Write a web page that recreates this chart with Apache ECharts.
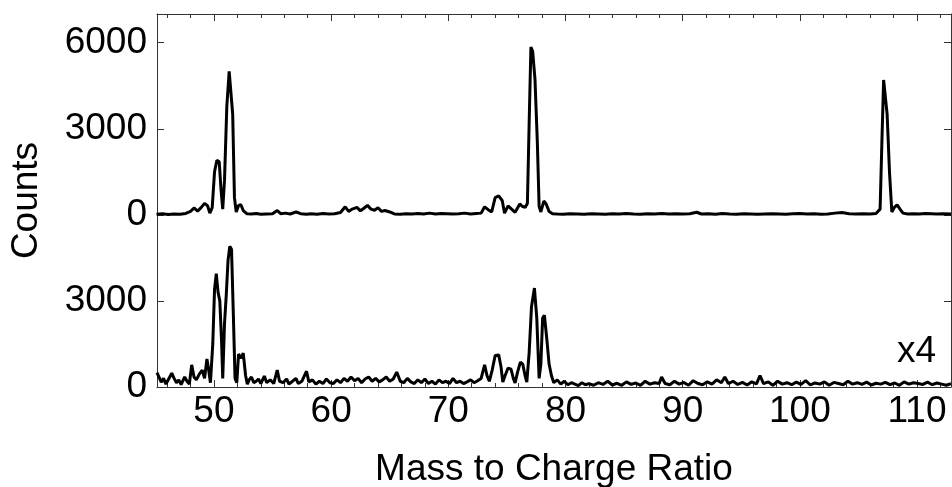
<!DOCTYPE html>
<html>
<head>
<meta charset="utf-8">
<script src="https://cdn.jsdelivr.net/npm/echarts@6/dist/echarts.min.js"></script>
<style>
html,body{margin:0;padding:0;background:#fff;}
#chart{width:952px;height:487px;}
</style>
</head>
<body>
<div id="chart"></div>
<script>
// ---- Data ----
// Upper trace: raw counts, drawn with a vertical offset of UPPER_OFFSET
const upperMass = [45.1,45.6,46.1,46.6,47.1,47.6,48.0,48.3,48.6,48.9,49.2,49.45,49.65,49.85,50.05,50.25,50.45,50.6,50.75,50.9,51.1,51.3,51.45,51.6,51.75,51.9,52.1,52.3,52.5,52.8,53.2,53.6,54.0,54.5,55.0,55.4,55.7,56.1,56.5,57.0,57.4,57.9,58.3,58.8,59.3,59.8,60.3,60.8,61.2,61.5,61.8,62.2,62.5,62.8,63.1,63.4,63.7,64.0,64.3,64.6,65.0,65.4,65.9,66.4,66.9,67.4,67.9,68.4,68.9,69.4,69.9,70.4,70.9,71.4,71.9,72.4,72.8,73.1,73.4,73.7,74.0,74.3,74.6,74.8,75.1,75.4,75.7,75.85,76.1,76.3,76.55,76.75,76.9,77.05,77.2,77.4,77.6,77.75,77.9,78.15,78.35,78.6,78.9,79.3,79.8,80.4,81.0,81.6,82.2,82.8,83.4,84.0,84.6,85.2,85.8,86.4,87.0,87.6,88.2,88.8,89.4,90.0,90.6,91.2,91.6,92.2,92.8,93.4,94.0,94.6,95.2,95.8,96.4,97.0,97.6,98.2,98.8,99.4,100.0,100.6,101.2,101.8,102.4,103.0,103.6,104.2,104.8,105.4,106.0,106.5,106.85,107.0,107.15,107.3,107.45,107.65,107.85,108.05,108.3,108.55,108.8,109.2,109.7,110.2,110.7,111.2,111.7,112.2,112.9];
const upperCounts = [20,40,10,30,20,50,120,240,130,250,400,320,60,250,1500,1900,1850,900,200,1200,3800,5000,5050,3500,600,100,330,350,150,40,30,50,20,30,40,150,40,60,30,100,40,20,40,20,50,30,40,80,280,120,200,260,140,230,330,200,160,250,120,150,100,30,20,40,30,50,30,60,30,50,40,30,40,60,30,50,60,280,180,100,600,660,500,60,310,200,90,50,380,300,260,400,3200,5850,5700,4700,2500,300,100,480,380,120,40,30,20,40,30,20,40,30,20,40,30,50,30,20,40,30,50,30,40,30,40,90,30,40,20,50,30,20,40,30,20,30,40,30,20,40,50,30,40,20,30,60,80,40,30,40,30,50,200,2500,4700,4650,3500,1500,100,250,350,200,60,30,40,30,50,40,30,40,30];

// Lower trace: counts already multiplied by 4 ("x4")
const lowerMass = [45.14,45.3,45.5,45.7,45.9,46.1,46.4,46.6,46.8,47.0,47.2,47.5,47.7,47.9,48.1,48.3,48.5,48.75,49.0,49.2,49.4,49.55,49.7,49.9,50.05,50.2,50.35,50.5,50.65,50.75,50.9,51.05,51.2,51.35,51.5,51.65,51.8,51.95,52.1,52.3,52.5,52.7,52.85,53.0,53.2,53.4,53.6,53.8,54.0,54.3,54.5,54.8,55.1,55.4,55.6,55.9,56.2,56.4,56.7,57.0,57.2,57.5,57.9,58.1,58.4,58.7,59.0,59.3,59.6,59.9,60.2,60.5,60.8,61.1,61.4,61.7,62.0,62.3,62.6,62.9,63.2,63.5,63.8,64.1,64.4,64.7,65.0,65.3,65.6,65.9,66.2,66.5,66.8,67.1,67.4,67.7,68.0,68.3,68.6,68.9,69.2,69.5,69.8,70.1,70.4,70.7,71.0,71.3,71.6,71.9,72.2,72.5,72.8,73.1,73.3,73.5,73.75,74.0,74.3,74.5,74.65,74.85,75.1,75.35,75.55,75.7,75.9,76.15,76.35,76.55,76.7,76.9,77.1,77.35,77.55,77.75,77.9,78.05,78.2,78.4,78.6,78.8,
  79.0,79.3,79.6,79.9,80.2,80.5,80.8,81.1,81.4,81.7,82.0,
  82.4,82.8,83.2,83.6,84.0,84.4,84.8,85.2,85.6,86.0,86.4,86.8,87.2,87.6,88.0,
  88.2,88.5,
  88.9,89.3,89.7,90.1,90.5,90.9,91.3,91.7,92.1,92.5,92.9,93.3,
  93.6,
  93.9,94.3,94.7,95.1,95.5,95.9,96.3,
  96.6,
  96.9,97.3,97.7,98.1,98.5,98.9,99.3,99.7,100.1,100.5,100.9,101.3,101.7,102.1,102.5,102.9,103.3,103.7,104.1,104.5,104.9,105.3,105.7,106.1,106.5,106.9,107.3,107.7,108.1,108.5,108.9,109.3,109.7,110.1,110.5,110.9,111.3,111.7,112.1,112.5,112.9];
const lowerCounts = [500,520,170,300,100,250,480,300,150,250,80,350,200,100,770,350,250,450,590,300,980,600,150,1500,3400,3950,3300,3000,1600,300,2200,3200,4400,4900,4800,2600,300,150,1150,1000,1180,400,100,250,350,150,200,280,120,380,150,250,120,590,200,150,280,100,200,300,120,200,550,180,250,100,200,120,280,150,120,250,150,300,200,350,220,300,150,280,350,200,300,180,250,350,200,280,520,200,150,300,180,120,250,150,280,120,200,100,250,150,200,120,300,150,200,120,180,250,150,220,300,770,400,200,600,1100,1120,700,170,400,660,620,300,140,500,870,800,400,170,1200,2800,3450,2400,300,800,2400,2500,1700,800,400,
  150,250,100,200,80,150,100,50,150,80,120,
  60,150,90,200,70,130,60,180,90,140,60,200,100,150,120,
  350,120,
  80,200,100,160,60,220,120,80,180,100,250,150,
  350,
  120,200,90,160,70,180,110,
  400,
  120,180,60,200,100,150,80,170,90,220,70,140,100,180,60,160,120,80,200,100,150,90,170,70,130,100,160,80,140,60,180,100,150,120,90,170,80,140,100,60,120];

const UPPER_OFFSET = 6000;
const xLabelValues = [50, 60, 70, 80, 90, 100, 110];
const xMinorTicks = [46,48,52,54,56,58,62,64,66,68,72,74,76,78,82,84,86,88,92,94,96,98,102,104,106,108,112];
const yTickValues = [0, 3000, 6000, 9000, 12000];
const yTickLabels = ['0', '3000', '0', '3000', '6000'];
const xMin = 45.14, xMax = 112.9, yMin = 0, yMax = 13000;

// ---- Build series data ----
const upperData = upperMass.map((m, i) => [m, upperCounts[i] + UPPER_OFFSET]);
const lowerData = lowerMass.map((m, i) => [m, lowerCounts[i]]);

const FONT = '"Liberation Sans", Arial, Helvetica, sans-serif';
const FS = 37;
const axisColor = '#333';

function xAx(pos, major, showLabel, showLine) {
  return {
    type: 'value', position: pos, min: xMin, max: xMax,
    axisLine: { show: showLine, onZero: false, lineStyle: { color: axisColor, width: 1 } },
    axisTick: { show: true, inside: true, length: major ? 7 : 4,
      customValues: major ? xLabelValues : xMinorTicks,
      lineStyle: { color: axisColor, width: 1 } },
    axisLabel: { show: showLabel, customValues: xLabelValues, margin: 6,
      color: '#000', fontSize: FS, fontFamily: FONT },
    splitLine: { show: false },
    name: showLabel ? 'Mass to Charge Ratio' : '',
    nameLocation: 'middle', nameGap: 64,
    nameTextStyle: { color: '#000', fontSize: FS, fontFamily: FONT }
  };
}

const chart = echarts.init(document.getElementById('chart'), null, { renderer: 'canvas' });
chart.setOption({
  animation: false,
  backgroundColor: '#fff',
  grid: { left: 157, right: 1, top: 14, bottom: 100, containLabel: false, outerBoundsMode: 'none' },
  xAxis: [
    xAx('bottom', true, true, true),
    xAx('top', true, false, true),
    xAx('bottom', false, false, false),
    xAx('top', false, false, false)
  ],
  yAxis: [
    {
      type: 'value', position: 'left', min: yMin, max: yMax,
      axisLine: { show: true, onZero: false, lineStyle: { color: axisColor, width: 1 } },
      axisTick: { show: true, inside: true, length: 7, customValues: yTickValues,
        lineStyle: { color: axisColor, width: 1 } },
      axisLabel: { customValues: yTickValues, margin: 10, color: '#000', fontSize: FS, fontFamily: FONT,
        formatter: v => yTickLabels[yTickValues.indexOf(v)] },
      splitLine: { show: false },
      name: 'Counts', nameLocation: 'middle', nameGap: 112,
      nameTextStyle: { color: '#000', fontSize: FS, fontFamily: FONT }
    },
    {
      type: 'value', position: 'right', min: yMin, max: yMax,
      axisLine: { show: true, onZero: false, lineStyle: { color: axisColor, width: 1 } },
      axisTick: { show: true, inside: true, length: 7, customValues: yTickValues,
        lineStyle: { color: axisColor, width: 1 } },
      axisLabel: { show: false },
      splitLine: { show: false }
    }
  ],
  series: [
    { name: 'Upper', type: 'line', xAxisIndex: 0, yAxisIndex: 0, data: upperData,
      showSymbol: false, symbol: 'none', lineStyle: { color: '#000', width: 3 }, clip: true },
    { name: 'Lower (x4)', type: 'line', xAxisIndex: 0, yAxisIndex: 0, data: lowerData,
      showSymbol: false, symbol: 'none', lineStyle: { color: '#000', width: 3 }, clip: true }
  ],
  graphic: [
    { type: 'text', right: 16, top: 333,
      style: { text: 'x4', fill: '#000', font: FS + 'px ' + FONT } }
  ]
});
</script>
</body>
</html>
